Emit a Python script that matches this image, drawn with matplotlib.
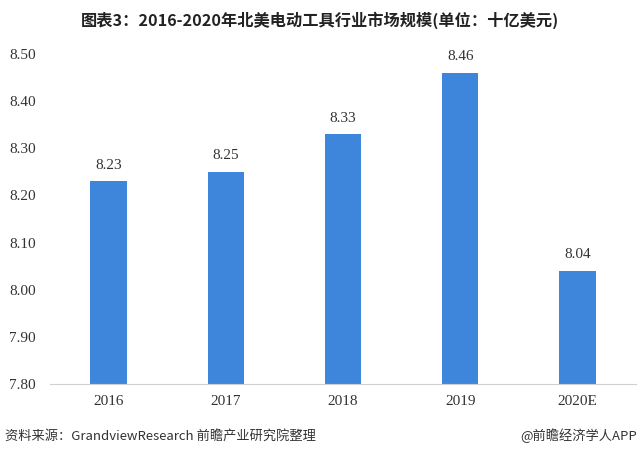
import matplotlib
matplotlib.use("Agg")
import matplotlib.pyplot as plt
from matplotlib.ticker import FuncFormatter

plt.rcParams['font.family'] = ['Noto Sans CJK SC', 'DejaVu Sans']

categories = ["2016", "2017", "2018", "2019", "2020E"]
values = [8.23, 8.25, 8.33, 8.46, 8.04]
yticks = [7.80, 7.90, 8.00, 8.10, 8.20, 8.30, 8.40, 8.50]

title = "图表3：2016-2020年北美电动工具行业市场规模(单位：十亿美元)"
source = "资料来源：GrandviewResearch 前瞻产业研究院整理"
credit = "@前瞻经济学人APP"

bar_color = "#3E86DC"

fig = plt.figure(figsize=(6.4, 4.58), dpi=100)
ax = fig.add_axes([0.078, 0.1616, 0.916, 0.7205])

x = list(range(len(categories)))
bars = ax.bar(x, values, width=0.31, color=bar_color, zorder=2)
ax.set_ylim(7.80, 8.50)
ax.set_xlim(-0.5, 4.5)
ax.set_yticks(yticks)
ax.yaxis.set_major_formatter(FuncFormatter(lambda v, p: f"{v:.2f}"))
ax.set_xticks(x)
ax.set_xticklabels(categories)

serif = ['Liberation Serif', 'DejaVu Serif']
for lab in ax.get_xticklabels() + ax.get_yticklabels():
    lab.set_family(serif)
    lab.set_fontsize(11)
    lab.set_color("#333333")

for s in ["top", "right", "left"]:
    ax.spines[s].set_visible(False)
ax.spines["bottom"].set_color("#D0D0D0")
ax.tick_params(axis="both", length=0)
ax.tick_params(axis="y", pad=10)
ax.tick_params(axis="x", pad=8)

for xi, v in zip(x, values):
    ax.text(xi, v + 0.02, f"{v:.2f}", ha="center", va="bottom",
            fontsize=11, family=serif, color="#333333")

fig.text(0.5, 0.955, title, ha="center", va="center", fontsize=11.7,
         fontweight="bold", color="#222222")
fig.text(0.008, 0.048, source, ha="left", va="center", fontsize=9.5, color="#333333")
fig.text(0.995, 0.048, credit, ha="right", va="center", fontsize=9.5, color="#333333")

fig.savefig("out.png", dpi=100, facecolor="white")
